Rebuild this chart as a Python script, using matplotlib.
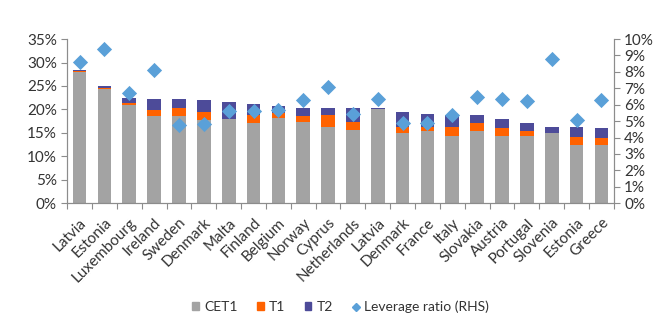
import matplotlib.pyplot as plt
import numpy as np
from matplotlib.lines import Line2D
from matplotlib.patches import Patch

plt.rcParams['font.family'] = ['Lato', 'DejaVu Sans']

# capital ratios by country, % of RWA
countries = ['Latvia', 'Estonia', 'Luxembourg', 'Ireland', 'Sweden', 'Denmark', 'Malta',
             'Finland', 'Belgium', 'Norway', 'Cyprus', 'Netherlands', 'Latvia', 'Denmark',
             'France', 'Italy', 'Slovakia', 'Austria', 'Portugal', 'Slovenia', 'Estonia', 'Greece']
cet1 = [28.0, 24.4, 20.9, 18.5, 18.5, 17.7, 18.0, 17.0, 18.1, 17.4, 16.3,
        15.6, 20.0, 15.0, 15.3, 14.3, 15.5, 14.3, 14.3, 14.9, 12.4, 12.4]
t1 = [0.1, 0.2, 0.5, 1.4, 1.7, 1.8, 0.0, 1.8, 1.2, 1.1, 2.5,
      1.8, 0.0, 1.2, 0.9, 2.0, 1.7, 1.7, 1.0, 0.0, 1.7, 1.4]
t2 = [0.4, 0.3, 1.1, 2.3, 2.0, 2.5, 3.5, 2.3, 1.5, 1.9, 1.4,
      2.8, 0.2, 3.3, 2.8, 2.5, 1.5, 1.9, 1.9, 1.3, 2.1, 2.2]
# leverage ratio, right axis
leverage = [8.6, 9.4, 6.7, 8.1, 4.75, 4.85, 5.6, 5.6, 5.65, 6.3, 7.1,
            5.45, 6.35, 4.9, 4.9, 5.35, 6.45, 6.35, 6.2, 8.8, 5.05, 6.3]

c_cet1 = '#a3a3a3'
c_t1 = '#ff6200'
c_t2 = '#4d4b99'
c_lev = '#5aa0d8'
c_axis = '#8c8c8c'
c_text = '#333333'

fig = plt.figure(figsize=(6.65, 3.23), dpi=100)
ax = fig.add_axes([0.101, 0.371, 0.822, 0.508])
ax2 = ax.twinx()

x = np.arange(len(countries))
w = 0.55
cet1 = np.array(cet1)
t1 = np.array(t1)
ax.bar(x, cet1, w, color=c_cet1, zorder=2)
ax.bar(x, t1, w, bottom=cet1, color=c_t1, zorder=2)
ax.bar(x, t2, w, bottom=cet1 + t1, color=c_t2, zorder=2)
ax2.scatter(x, leverage, marker='D', s=60, color=c_lev, zorder=3, linewidths=0)

ax.set_xlim(-0.5, len(countries) - 0.5)
ax.set_ylim(0, 35)
ax2.set_ylim(0, 10)
ax.set_yticks(np.arange(0, 36, 5))
ax.set_yticklabels([f'{v}%' for v in range(0, 36, 5)])
ax2.set_yticks(np.arange(0, 11, 1))
ax2.set_yticklabels([f'{v}%' for v in range(0, 11)])

# country ticks sit between the bars
ax.set_xticks(np.arange(-0.5, len(countries), 1), minor=False)
ax.set_xticklabels([])
ax.set_xticks(x, minor=True)
ax.set_xticklabels(countries, minor=True, rotation=45, ha='right',
                   rotation_mode='anchor', fontsize=11, color=c_text)
ax.tick_params(axis='x', which='minor', length=0, pad=9)
ax.tick_params(axis='x', which='major', length=4, color=c_axis)
ax.tick_params(axis='y', length=4, color=c_axis, labelsize=11, labelcolor=c_text)
ax2.tick_params(axis='y', length=4, color=c_axis, labelsize=11, labelcolor=c_text)

for a in (ax, ax2):
    a.spines['top'].set_visible(False)
    for s in ('left', 'right', 'bottom'):
        a.spines[s].set_color(c_axis)
        a.spines[s].set_linewidth(0.8)

handles = [Patch(color=c_cet1, label='CET1'),
           Patch(color=c_t1, label='T1'),
           Patch(color=c_t2, label='T2'),
           Line2D([], [], marker='D', linestyle='none', color=c_lev, markersize=4,
                  label='Leverage ratio (RHS)')]
fig.legend(handles=handles, loc='center', bbox_to_anchor=(0.512, 0.05), ncol=4,
           frameon=False, fontsize=10, handlelength=0.5, handleheight=0.5,
           handletextpad=0.35, columnspacing=1.4, labelcolor=c_text)

fig.savefig('out.png', dpi=100)
